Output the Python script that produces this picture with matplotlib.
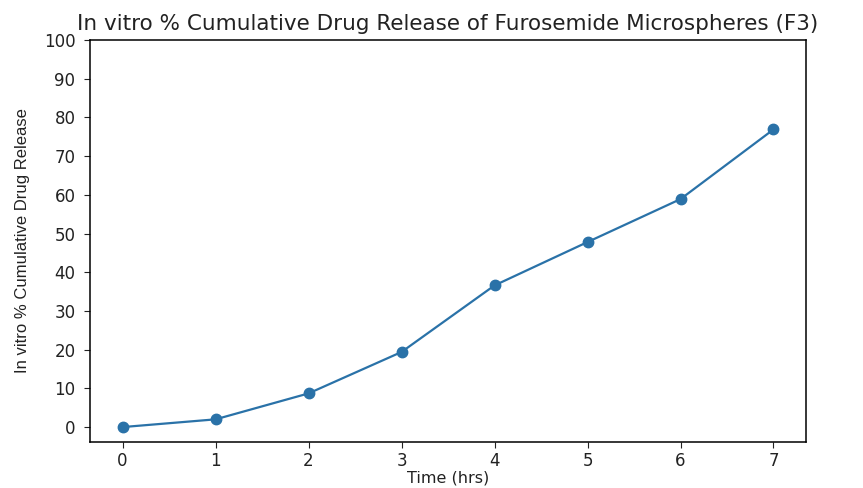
import matplotlib
matplotlib.use("Agg")
import matplotlib.pyplot as plt

time_hrs = [0, 1, 2, 3, 4, 5, 6, 7]
cumulative_release = [0.0, 2.0, 8.7, 19.4, 36.6, 47.8, 58.9, 76.9]
y_ticks = [0, 10, 20, 30, 40, 50, 60, 70, 80, 90, 100]

fig = plt.figure(figsize=(8.63, 4.88), dpi=100)
ax = fig.add_axes([0.1043, 0.0943, 0.8297, 0.8237])

ax.plot(time_hrs, cumulative_release, color="#2a72a8", linewidth=1.6,
        marker="o", markersize=7.5)

ax.set_xlim(-0.35, 7.35)
ax.set_ylim(-3.85, 100)
ax.set_xticks(time_hrs)
ax.set_yticks(y_ticks)
ax.tick_params(axis="both", labelsize=12, length=4.5, colors="#222222")
ax.tick_params(axis="y", pad=6)
ax.tick_params(axis="x", pad=3)
for s in ax.spines.values():
    s.set_linewidth(1.1)

ax.set_title("In vitro % Cumulative Drug Release of Furosemide Microspheres (F3)",
             fontsize=15.5, pad=7, color="#222222")
ax.set_xlabel("Time (hrs)", fontsize=11.5, labelpad=0, color="#222222")
ax.set_ylabel("In vitro % Cumulative Drug Release", fontsize=12,
              family="Liberation Sans", labelpad=10, color="#222222")

fig.savefig("out.png", dpi=100)
